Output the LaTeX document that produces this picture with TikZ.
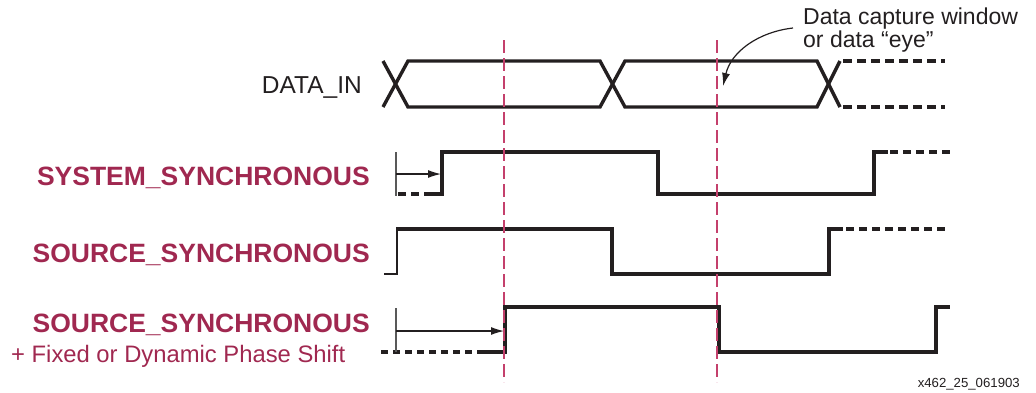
\documentclass[tikz,border=0pt]{standalone}
\usepackage{fontspec}
\setmainfont{Liberation Sans}
\usetikzlibrary{arrows.meta}
\definecolor{sigred}{RGB}{160,40,80}
\definecolor{guidered}{RGB}{196,64,108}
\definecolor{ink}{RGB}{35,31,32}
\tikzset{
  wave/.style={draw=ink, line width=3.4pt, line join=miter},
  thinwave/.style={draw=ink, line width=1.8pt},
  wavedash/.style={draw=ink, line width=3.4pt, dash pattern=on 8pt off 5pt},
  guide/.style={draw=guidered, line width=1.1pt, dash pattern=on 13pt off 5pt},
  tick/.style={draw=black!65, line width=1.5pt},
  delayarrow/.style={draw=ink, line width=1.2pt, -{Latex[length=13pt,width=8pt]}},
  siglabel/.style={text=sigred, font=\fontsize{26.5}{30}\selectfont\bfseries, inner sep=0pt, anchor=base east},
  plainlabel/.style={text=ink, inner sep=0pt},
}
\begin{document}
\begin{tikzpicture}[x=1pt, y=-1pt]
\useasboundingbox (0,0) rectangle (1036,392);

% signal names
\node[plainlabel, font=\fontsize{24.5}{28}\selectfont, anchor=base east] (din) at (362,93) {DATA\_IN};
\node[siglabel] (sys) at (370,185) {SYSTEM\_SYNCHRONOUS};
\node[siglabel] (src) at (370,262) {SOURCE\_SYNCHRONOUS};
\node[siglabel] (srcps) at (370,332) {SOURCE\_SYNCHRONOUS};
\node[plainlabel, text=sigred, font=\fontsize{23.8}{28}\selectfont, anchor=base west] (phase) at (11,362) {+ Fixed or Dynamic Phase Shift};

% DATA_IN eye pattern
\draw[wave] (383,61) -- (408,107) -- (600,107) -- (625,61) -- (817,61) -- (840,107);
\draw[wave] (383,107) -- (408,61) -- (600,61) -- (625,107) -- (817,107) -- (840,61);
\draw[wavedash, dash pattern=on 9pt off 5pt] (843,61) -- (945,61);
\draw[wavedash, dash pattern=on 9pt off 5pt] (843,107) -- (945,107);

% SYSTEM_SYNCHRONOUS clock
\draw[wavedash] (398,194) -- (427,194);
\draw[wave] (427,194) -- (442,194) -- (442,152) -- (658,152) -- (658,194) -- (874,194) -- (874,152) -- (888,152);
\draw[wavedash] (890,152) -- (950,152);
\draw[tick] (396,152) -- (396,196);
\coordinate (sysA) at (396,174);
\coordinate (sysB) at (441,174);
\draw[delayarrow] (sysA) -- (sysB);

% SOURCE_SYNCHRONOUS clock
\draw[thinwave] (384,274) -- (397,274) -- (397,229);
\draw[wave] (396,229) -- (612,229) -- (612,274) -- (829,274) -- (829,229) -- (843,229);
\draw[wavedash] (846,229) -- (947,229);

% SOURCE_SYNCHRONOUS clock with phase shift
\draw[wavedash, dash pattern=on 7pt off 5pt] (381,352) -- (478,352);
\draw[wave] (478,352) -- (505,352) -- (505,307) -- (719,307) -- (719,352) -- (936,352) -- (936,307) -- (950,307);
\draw[tick] (396,308) -- (396,352);
\coordinate (psA) at (396,331);
\coordinate (psB) at (504,331);
\draw[delayarrow] (psA) -- (psB);

% sampling instants
\draw[guide] (504,40) -- (504,382);
\draw[guide] (717,40) -- (717,382);

% eye annotation
\node[plainlabel, font=\fontsize{23}{20}\selectfont, align=left, anchor=north west] (eye) at (803,8) {Data capture window\\or data “eye”};
\coordinate (eyeTip) at (723,86);
\draw[draw=ink, line width=1.2pt, -{Latex[length=13pt,width=8pt]}] (793,28) .. controls (758,32) and (731,52) .. (eyeTip);

% figure number
\node[plainlabel, font=\fontsize{13.2}{15}\selectfont, anchor=base east] (fig) at (1020,387) {x462\_25\_061903};
\end{tikzpicture}
\end{document}
